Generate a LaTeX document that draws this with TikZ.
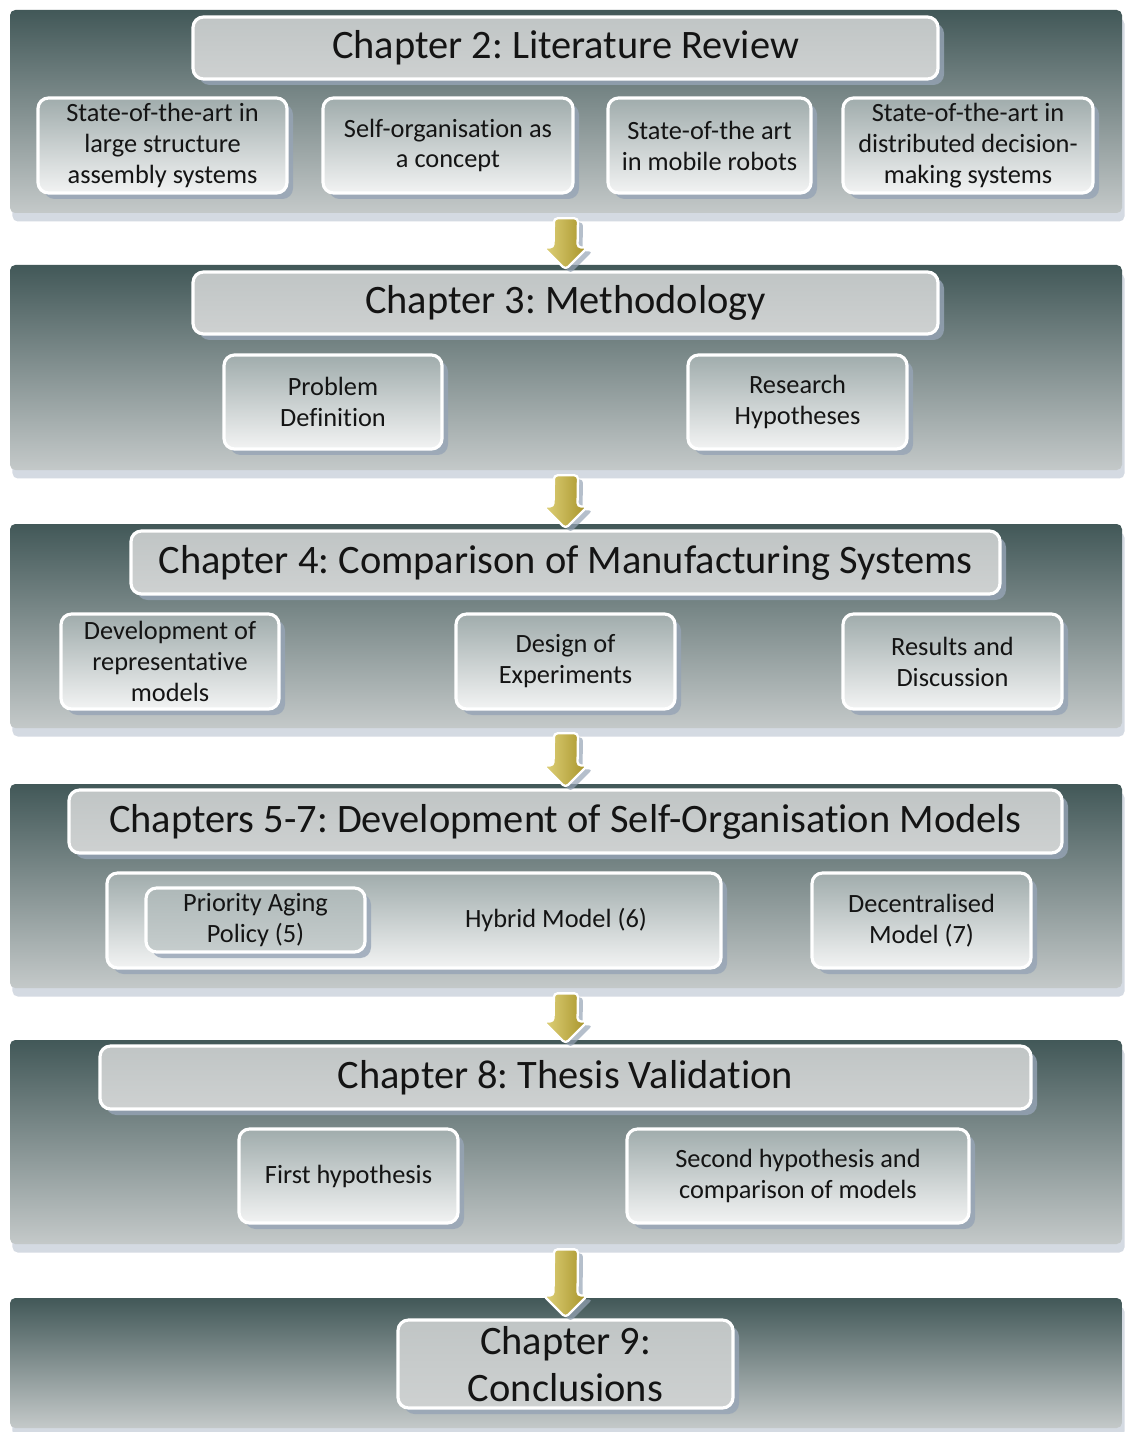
\documentclass[tikz,border=0pt]{standalone}
\usepackage{fontspec}
\setmainfont[Ligatures={NoCommon}]{Carlito}
\frenchspacing
\usetikzlibrary{shadows,calc}
\definecolor{panelTop}{RGB}{66,88,88}
\definecolor{panelBot}{RGB}{196,201,201}
\definecolor{panelShadow}{RGB}{212,218,226}
\definecolor{hdrTop}{RGB}{192,197,197}
\definecolor{hdrBot}{RGB}{206,209,209}
\definecolor{subTop}{RGB}{160,172,172}
\definecolor{subBot}{RGB}{242,243,243}
\definecolor{boxShadow}{RGB}{150,164,182}
\definecolor{goldL}{RGB}{224,210,122}
\definecolor{goldR}{RGB}{166,146,40}
\definecolor{txt}{RGB}{20,20,20}
\tikzset{
  panel/.style={rounded corners=3, top color=panelTop, bottom color=panelBot, draw=none, inner sep=0pt,
    drop shadow={shadow xshift=0.05cm, shadow yshift=-0.17cm, fill=panelShadow, opacity=1}},
  hdr/.style={rounded corners=6, top color=hdrTop, bottom color=hdrBot, draw=white, line width=1.8pt,
    inner sep=0pt, align=center, text=txt, font=\fontsize{23}{26.5}\selectfont,
    drop shadow={shadow xshift=0.12cm, shadow yshift=-0.12cm, fill=boxShadow, opacity=0.8}},
  sub/.style={rounded corners=6, top color=subTop, bottom color=subBot, draw=white, line width=1.8pt,
    inner sep=0pt, align=center, text=txt, font=\fontsize{15}{17.6}\selectfont,
    drop shadow={shadow xshift=0.12cm, shadow yshift=-0.12cm, fill=boxShadow, opacity=0.8}},
  inner/.style={sub, top color=subTop!85!white, bottom color=subTop!60!white},
  goldarrow/.style={left color=goldL, right color=goldR, draw=white, line width=1.3pt, rounded corners=2,
    drop shadow={shadow xshift=0.1cm, shadow yshift=-0.08cm, fill=boxShadow, opacity=0.7}},
}
\newcommand\bx[7]{\node[#6, minimum width={(#4-#2)*0.02cm}, minimum height={(#5-#3)*0.02cm}] (#1) at ({(#2+#4)/2},{(#3+#5)/2}) {#7};}
\newcommand\garrow[2]{%
  \coordinate (gt) at ($(#1.south)+(0,5)$);
  \coordinate (gb) at ($(#2.north)+(0,-1)$);
  \path[goldarrow] ($(gt)+(-12,0)$) -- ($(gt)+(12,0)$) -- ($(gb)+(12,-22)$) -- ($(gb)+(22,-22)$) -- (gb)
    -- ($(gb)+(-22,-22)$) -- ($(gb)+(-12,-22)$) -- cycle;}
\begin{document}
\begin{tikzpicture}[x=0.02cm,y=-0.02cm]
\useasboundingbox[fill=white] (0,0) rectangle (1126,1432);
% panels
\bx{p1}{10}{10}{1122}{213}{panel}{}
\bx{p2}{10}{265}{1122}{470}{panel}{}
\bx{p3}{10}{524}{1122}{728}{panel}{}
\bx{p4}{10}{784}{1122}{988}{panel}{}
\bx{p5}{10}{1040}{1122}{1244}{panel}{}
\bx{p6}{10}{1298}{1122}{1428}{panel}{}
% chapter 2
\bx{h2}{193}{17}{938}{79}{hdr}{Chapter 2: Literature Review}
\bx{s21}{38}{98}{287}{193}{sub}{State-of-the-art in\\large structure\\assembly systems}
\bx{s22}{323}{98}{573}{193}{sub}{Self-organisation as\\a concept}
\bx{s23}{608}{98}{811}{193}{sub}{State-of-the art\\in mobile robots}
\bx{s24}{843}{98}{1093}{193}{sub}{State-of-the-art in\\distributed decision-\\making systems}
% chapter 3
\bx{h3}{193}{272}{938}{334}{hdr}{Chapter 3: Methodology}
\bx{s31}{224}{355}{442}{449}{sub}{Problem\\Definition}
\bx{s32}{688}{355}{907}{449}{sub}{Research\\Hypotheses}
% chapter 4
\bx{h4}{131}{531}{1000}{594}{hdr}{Chapter 4: Comparison of Manufacturing Systems}
\bx{s41}{61}{614}{279}{709}{sub}{Development of\\representative\\models}
\bx{s42}{456}{614}{675}{709}{sub}{Design of\\Experiments}
\bx{s43}{843}{614}{1062}{709}{sub}{Results and\\Discussion}
% chapters 5-7
\bx{h5}{69}{790}{1062}{853}{hdr}{Chapters 5-7: Development of Self-Organisation Models}
\bx{s51}{107}{873}{721}{968}{sub}{}
\node[txt, font=\fontsize{15}{17.6}\selectfont] (hyb) at (556,920) {Hybrid Model (6)};
\bx{s52}{146}{888}{365}{952}{inner}{Priority Aging\\Policy (5)}
\bx{s53}{812}{873}{1031}{968}{sub}{Decentralised\\Model (7)}
% chapter 8
\bx{h8}{100}{1046}{1031}{1109}{hdr}{Chapter 8: Thesis Validation}
\bx{s81}{239}{1129}{458}{1223}{sub}{First hypothesis}
\bx{s82}{627}{1129}{969}{1223}{sub}{Second hypothesis and\\comparison of models}
% chapter 9
\bx{h9}{398}{1320}{733}{1408}{hdr}{Chapter 9:\\Conclusions}
% arrows
\garrow{p1}{h3}
\garrow{p2}{h4}
\garrow{p3}{h5}
\garrow{p4}{h8}
\garrow{p5}{h9}
\end{tikzpicture}
\end{document}
